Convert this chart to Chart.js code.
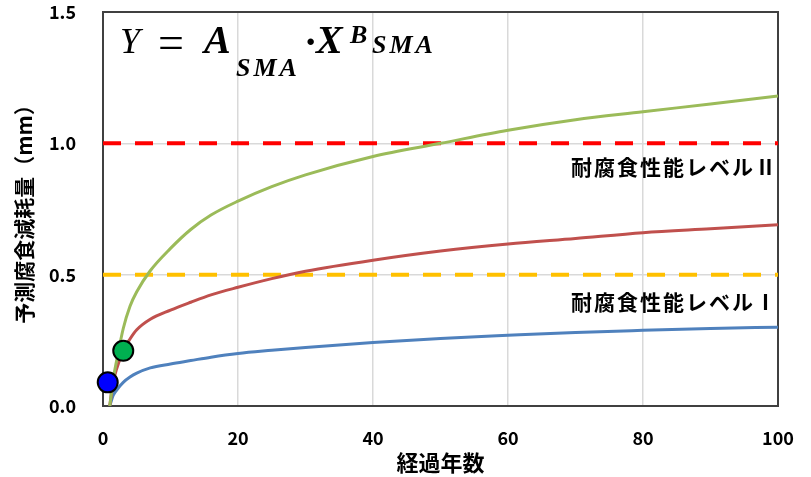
<!DOCTYPE html>
<html>
<head>
<meta charset="utf-8">
<script src="https://cdn.jsdelivr.net/npm/chart.js@4.4.1/dist/chart.umd.min.js"></script>
<style>
  html, body { margin: 0; padding: 0; background: #fff; }
</style>
</head>
<body>
<canvas id="myChart" width="811" height="477"></canvas>
<script>
'use strict';
// values
const years = [1, 1.5, 2, 3, 4, 5, 7, 10, 13, 16, 20, 25, 30, 40, 50, 60, 70, 80, 90, 100];
const greenLoss = [0, 0.10, 0.17, 0.295, 0.38, 0.435, 0.515, 0.60, 0.672, 0.727, 0.78, 0.835, 0.88, 0.95, 1.00, 1.05, 1.09, 1.12, 1.15, 1.18];
const redLoss = [0, 0.09, 0.14, 0.21, 0.255, 0.29, 0.33, 0.365, 0.395, 0.423, 0.452, 0.485, 0.513, 0.555, 0.59, 0.617, 0.638, 0.66, 0.675, 0.69];
const blueLoss = [0, 0.04, 0.06, 0.09, 0.11, 0.125, 0.145, 0.16, 0.173, 0.186, 0.20, 0.212, 0.223, 0.242, 0.257, 0.269, 0.28, 0.288, 0.295, 0.30];

const levelYears = [0, 100];
const level1 = [0.5, 0.5];
const level2 = [1.0, 1.0];

const markerYears = [0.7, 3];
const markerLoss = [0.09, 0.21];

const xTicks = [0, 20, 40, 60, 80, 100];
const yTickLabels = ['0.0', '0.5', '1.0', '1.5'];
const levelLabels = ['耐腐食性能レベルⅠ', '耐腐食性能レベルⅡ'];

const toPoints = (xs, ys) => xs.map((x, i) => ({ x: x, y: ys[i] }));

const boldFont = '"Noto Sans CJK JP", "Noto Sans", sans-serif';

// frame, formula and level labels
const extras = {
  id: 'extras',
  beforeDatasetsDraw(chart) {
    const { ctx, chartArea: a } = chart;
    ctx.save();
    ctx.strokeStyle = '#404040';
    ctx.lineWidth = 2;
    ctx.strokeRect(a.left, a.top, a.right - a.left, a.bottom - a.top);
    ctx.restore();
  },
  afterDraw(chart) {
    const { ctx } = chart;
    const ys = chart.scales.y;
    ctx.save();
    ctx.fillStyle = '#000';
    ctx.textBaseline = 'alphabetic';
    const serif = '"Liberation Serif", serif';
    ctx.font = 'italic 36px ' + serif;
    ctx.fillText('Y', 120, 53);
    ctx.font = '46px ' + serif;
    ctx.fillText('=', 158, 58);
    ctx.font = 'italic bold 40px ' + serif;
    ctx.fillText('A', 204, 53);
    ctx.fillText('X', 316, 53);
    ctx.font = 'bold 40px ' + serif;
    ctx.fillText('·', 304, 55);
    ctx.font = 'italic bold 26px ' + serif;
    ctx.letterSpacing = '3px';
    ctx.fillText('SMA', 236, 76);
    ctx.fillText('SMA', 372, 53);
    ctx.letterSpacing = '0px';
    ctx.fillText('B', 350, 43);

    ctx.font = 'bold 21px ' + boldFont;
    ctx.letterSpacing = '2px';
    ctx.textAlign = 'left';
    ctx.textBaseline = 'middle';
    ctx.fillText(levelLabels[1], 571, ys.getPixelForValue(level2[0]) + 24);
    ctx.fillText(levelLabels[0], 571, ys.getPixelForValue(level1[0]) + 27);
    ctx.restore();
  }
};

const ctx = document.getElementById('myChart');

const chart = new Chart(ctx, {
  type: 'scatter',
  data: {
    datasets: [
      {
        data: toPoints(markerYears.slice(0, 1), markerLoss.slice(0, 1)),
        pointRadius: 10,
        pointBackgroundColor: '#0000FF',
        pointBorderColor: '#000',
        pointBorderWidth: 2,
        clip: false,
        order: 0
      },
      {
        data: toPoints(markerYears.slice(1), markerLoss.slice(1)),
        pointRadius: 10,
        pointBackgroundColor: '#00B050',
        pointBorderColor: '#000',
        pointBorderWidth: 2,
        clip: false,
        order: 0
      },
      {
        data: toPoints(years, greenLoss),
        showLine: true,
        borderColor: '#9BBB59',
        borderWidth: 3,
        pointRadius: 0,
        cubicInterpolationMode: 'monotone',
        order: 1
      },
      {
        data: toPoints(years, redLoss),
        showLine: true,
        borderColor: '#C0504D',
        borderWidth: 3,
        pointRadius: 0,
        cubicInterpolationMode: 'monotone',
        order: 1
      },
      {
        data: toPoints(years, blueLoss),
        showLine: true,
        borderColor: '#4F81BD',
        borderWidth: 3,
        pointRadius: 0,
        cubicInterpolationMode: 'monotone',
        order: 1
      },
      {
        data: toPoints(levelYears, level2),
        showLine: true,
        borderColor: '#FF0000',
        borderWidth: 4,
        borderDash: [18, 14],
        pointRadius: 0,
        order: 2
      },
      {
        data: toPoints(levelYears, level1),
        showLine: true,
        borderColor: '#FFC000',
        borderWidth: 4,
        borderDash: [18, 14],
        pointRadius: 0,
        order: 2
      }
    ]
  },
  options: {
    responsive: false,
    animation: false,
    layout: { autoPadding: false, padding: { top: 12, right: 33, left: 0, bottom: 0 } },
    plugins: {
      legend: { display: false },
      tooltip: { enabled: false }
    },
    scales: {
      x: {
        type: 'linear',
        min: 0,
        max: 100,
        afterBuildTicks: (scale) => {
          scale.ticks = xTicks.map((v) => ({ value: v }));
        },
        afterFit: (scale) => {
          // tick padding would otherwise widen the side margins
          scale.height = 71;
          scale.paddingLeft = 0;
          scale.paddingRight = 0;
        },
        grid: { color: '#d9d9d9', lineWidth: 1.5, drawTicks: false },
        border: { display: false },
        ticks: {
          padding: 21,
          color: '#000',
          font: { family: boldFont, size: 18, weight: 'bold' }
        },
        title: {
          display: true,
          text: '経過年数',
          color: '#000',
          padding: { top: 0, bottom: 1 },
          font: { family: boldFont, size: 22, weight: 'bold' }
        }
      },
      y: {
        type: 'linear',
        min: 0,
        max: 1.5,
        ticks: {
          stepSize: 0.5,
          padding: 27,
          color: '#000',
          font: { family: boldFont, size: 18, weight: 'bold' },
          callback: (v, i) => yTickLabels[i]
        },
        afterFit: (scale) => {
          scale.width = 103;
          scale.paddingTop = 0;
          scale.paddingBottom = 0;
        },
        grid: { color: '#d9d9d9', lineWidth: 1.5, drawTicks: false },
        border: { display: false },
        title: {
          display: true,
          text: '予測腐食減耗量（mm）',
          color: '#000',
          padding: { top: 11, bottom: 0 },
          font: { family: boldFont, size: 21, weight: 'bold' }
        }
      }
    }
  },
  plugins: [extras]
});
</script>
</body>
</html>
